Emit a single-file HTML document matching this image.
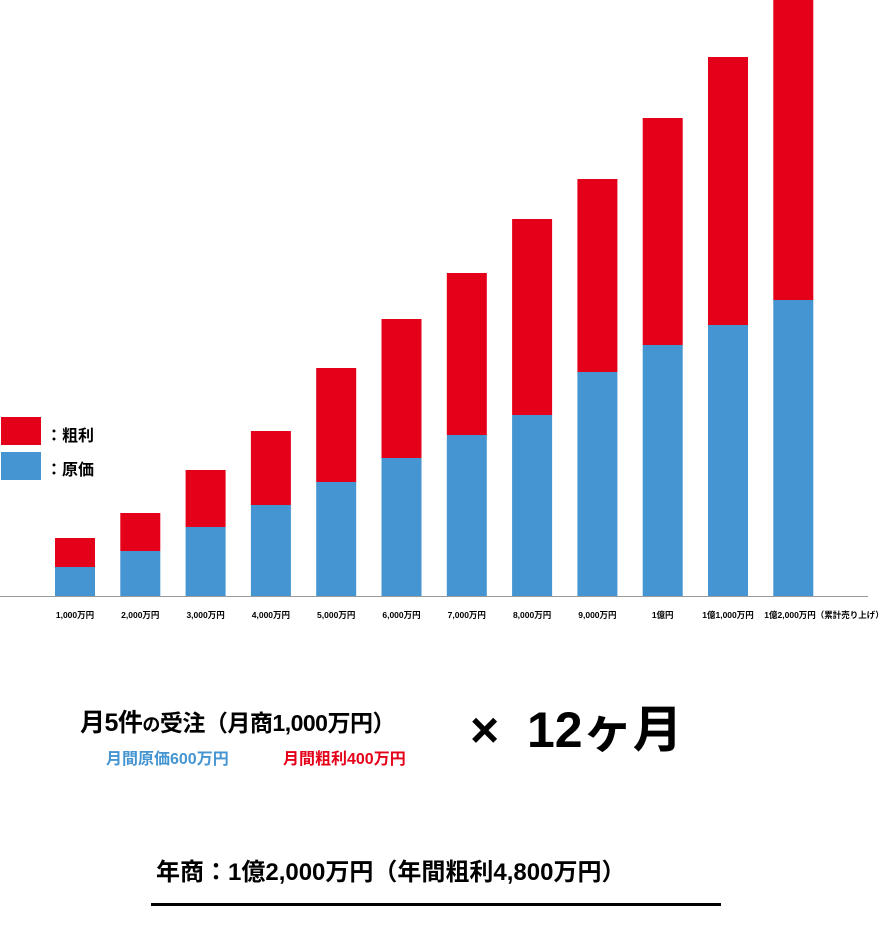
<!DOCTYPE html>
<html><head><meta charset="utf-8">
<style>
body{margin:0;width:889px;height:939px;background:#fff;overflow:hidden;font-family:"Liberation Sans","Noto Sans CJK JP",sans-serif;}
svg{position:absolute;left:0;top:0}
.t{position:absolute;white-space:nowrap;font-weight:bold;}
</style></head><body>
<svg id="chart" width="889" height="640"></svg>
<div class="t" style="left:1px;top:417px;width:40px;height:28px;background:#e50019"></div>
<div class="t" style="left:46px;top:422px;font-size:16px">：粗利</div>
<div class="t" style="left:1px;top:452px;width:40px;height:28px;background:#4495d1"></div>
<div class="t" style="left:46px;top:456px;font-size:16px">：原価</div>

<div class="t" style="left:80px;top:703px;font-size:23px;letter-spacing:-0.5px"><span style="font-size:25px">月5件</span><span style="font-size:18px">の</span>受注（月商1,000万円）</div>
<div class="t" style="left:106px;top:745px;font-size:16px;color:#4495d1">月間原価600万円</div>
<div class="t" style="left:283px;top:745px;font-size:16px;color:#e50019">月間粗利400万円</div>
<div class="t" style="left:470px;top:700px;font-size:50px;line-height:60px">×&nbsp;&nbsp;12ヶ月</div>
<div class="t" style="left:156px;top:852px;font-size:24px">年商：1億2,000万円（年間粗利4,800万円）</div>
<div class="t" style="left:151px;top:903px;width:570px;height:3px;background:#000"></div>

<script>
const categories=["1,000万円","2,000万円","3,000万円","4,000万円","5,000万円","6,000万円","7,000万円","8,000万円","9,000万円","1億円","1億1,000万円","1億2,000万円（累計売り上げ）"];
const costValues=[29,45,69,91,114,138,161,181,224,251,271,296];
const profitValues=[29,38,57,74,114,139,162,196,193,227,268,300];
const NS="http://www.w3.org/2000/svg";
const svg=document.getElementById('chart');
const baseY=596, x0=55, step=65.3, bw=40;
const y=v=>baseY-v;
const xPos=i=>x0+i*step;
function mk(tag,attrs){const e=document.createElementNS(NS,tag);for(const k in attrs)e.setAttribute(k,attrs[k]);svg.appendChild(e);return e;}
categories.forEach((c,i)=>{
  const x=xPos(i);
  const b=mk('rect',{x:x,y:y(costValues[i]),width:bw,height:costValues[i],fill:'#4495d1'});
  
  
  const r=mk('rect',{x:x,y:y(costValues[i]+profitValues[i]),width:bw,height:profitValues[i],fill:'#e50019'});
  
  
  const last=i===categories.length-1;
  const t=mk('text',{x:last?x-9:x+bw/2,y:618,'font-size':8.5,'font-weight':'bold','text-anchor':last?'start':'middle','font-family':'"Liberation Sans","Noto Sans CJK JP",sans-serif'});
  t.textContent=c;
  
  
});
const ax=mk('line',{x1:0,y1:596.5,x2:868,y2:596.5,stroke:'#999','stroke-width':1});


</script>
</body></html>
